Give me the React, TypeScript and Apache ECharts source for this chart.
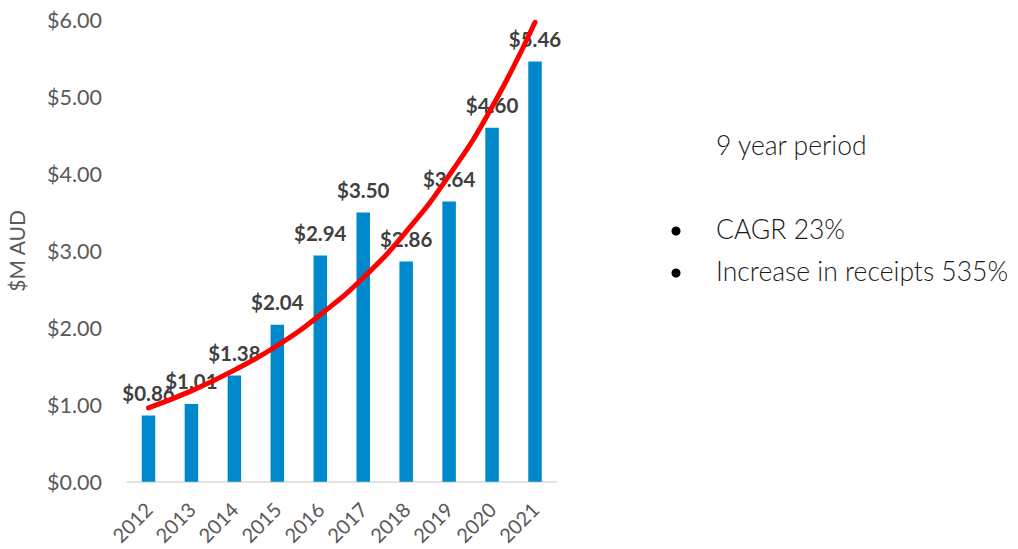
import React, { useEffect, useRef } from "react";
import * as echarts from "echarts";

const years = ["2012", "2013", "2014", "2015", "2016", "2017", "2018", "2019", "2020", "2021"];
const receipts = [0.86, 1.01, 1.38, 2.04, 2.94, 3.5, 2.86, 3.64, 4.6, 5.46];
const trendline = [0.96, 1.18, 1.45, 1.77, 2.17, 2.65, 3.25, 3.98, 4.87, 5.97];
const yTicks = { min: 0, max: 6, interval: 1 };
const notes = ["9 year period", "CAGR 23%", "Increase in receipts 535%"];

export default function App() {
  const ref = useRef<HTMLDivElement>(null);
  useEffect(() => {
    if (!ref.current) return;
    const chart = echarts.init(ref.current, null, { renderer: "svg" });
    const font = "Lato, 'Open Sans', sans-serif";
    chart.setOption({
      animation: false,
      textStyle: { fontFamily: font },
      grid: { left: 127, right: 461.5, top: 20, bottom: 67.3, containLabel: false },
      xAxis: {
        type: "category",
        data: years,
        axisLine: { show: true, lineStyle: { color: "#D9D9D9", width: 1.5 } },
        axisTick: { show: false },
        axisLabel: { rotate: 45, color: "#595959", fontSize: 20, margin: 24, fontFamily: font },
      },
      yAxis: {
        type: "value",
        min: yTicks.min,
        max: yTicks.max,
        interval: yTicks.interval,
        name: "$M AUD",
        nameLocation: "middle",
        nameGap: 100,
        nameRotate: 90,
        nameTextStyle: { color: "#595959", fontSize: 21, fontFamily: font },
        splitLine: { show: false },
        axisLine: { show: false },
        axisTick: { show: false },
        axisLabel: {
          color: "#595959",
          fontSize: 21.5,
          margin: 25,
          fontFamily: font,
          formatter: (v: number) => "$" + v.toFixed(2),
        },
      },
      series: [
        {
          type: "bar",
          data: receipts,
          barWidth: 13.5,
          z: 2,
          itemStyle: { color: "#0088CC" },
          label: {
            show: true,
            position: "top",
            distance: 12,
            color: "#404040",
            fontWeight: "bold",
            fontSize: 20.5,
            fontFamily: font,
            formatter: (p: any) => "$" + Number(p.value).toFixed(2),
          },
        },
        {
          type: "line",
          data: trendline,
          smooth: true,
          showSymbol: false,
          symbol: "none",
          z: 5,
          lineStyle: { color: "#FF0000", width: 5, cap: "round" },
        },
      ],
      graphic: [
        {
          type: "text",
          left: 716,
          top: 131,
          style: { text: notes[0], fontSize: 26.5, fill: "#1a1a1a", fontFamily: font, fontWeight: 300 },
        },
        {
          type: "circle",
          shape: { cx: 676, cy: 231, r: 4.5 },
          style: { fill: "#000" },
        },
        {
          type: "text",
          left: 716,
          top: 215,
          style: { text: notes[1], fontSize: 26.5, fill: "#1a1a1a", fontFamily: font, fontWeight: 300 },
        },
        {
          type: "circle",
          shape: { cx: 676, cy: 273, r: 4.5 },
          style: { fill: "#000" },
        },
        {
          type: "text",
          left: 716,
          top: 257,
          style: { text: notes[2], fontSize: 26.5, fill: "#1a1a1a", fontFamily: font, fontWeight: 300 },
        },
      ],
    });
    return () => chart.dispose();
  }, []);
  return (
    <div
      ref={ref}
      style={{ position: "fixed", left: 0, top: 0, width: 1018, height: 549, background: "#fff" }}
    />
  );
}
